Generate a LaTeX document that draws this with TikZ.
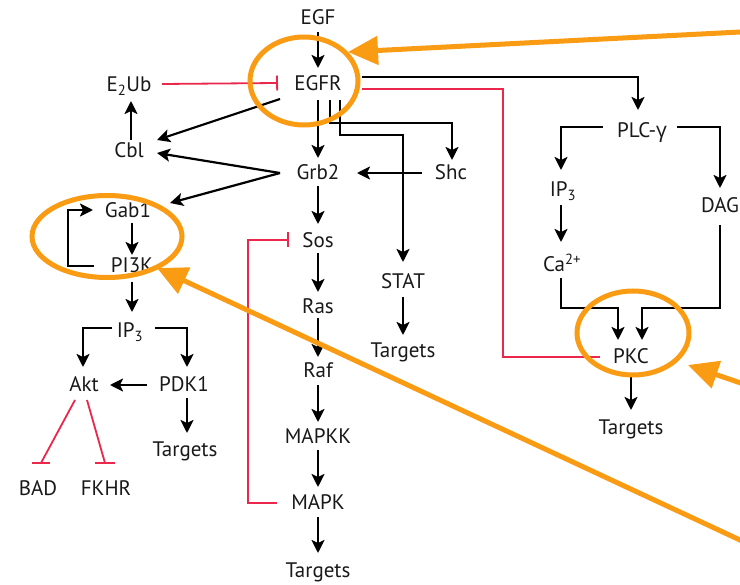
\documentclass[tikz,border=0pt]{standalone}
\usepackage{fontspec}
\setmainfont{PT Sans}
\newfontfamily\grk{Open Sans}
\usetikzlibrary{arrows.meta,calc}
\definecolor{inhred}{RGB}{235,40,75}
\definecolor{hlorange}{RGB}{250,155,20}
\begin{document}
\begin{tikzpicture}[x=1pt,y=-1pt,
  lab/.style={font=\fontsize{21}{23}\selectfont, inner sep=0pt, text height=14pt, text depth=0pt, text=black!90},
  arr/.style={draw=black, line width=2.2pt, -{Stealth[length=13pt,width=13pt,inset=3pt]}},
  elbow/.style={arr},
  inh/.style={draw=inhred, line width=1.8pt, -{Bar[width=15pt,line width=1.8pt]}},
  inhline/.style={draw=inhred, line width=1.8pt},
  hl/.style={draw=hlorange, line width=5pt},
  hlarrow/.style={draw=hlorange, line width=5pt, -{Triangle[length=30pt,width=28pt]}}
]
\useasboundingbox (0,0) rectangle (740,585);
\fill[white] (0,0) rectangle (740,585);

% nodes
\node[lab] (EGF)   at (318,18)  {EGF};
\node[lab] (EGFR)  at (318,84)  {EGFR};
\node[lab] (E2Ub)  at (129,85)  {E\textsubscript{2}Ub};
\node[lab] (Cbl)   at (129,151) {Cbl};
\node[lab] (Grb2)  at (318,173) {Grb2};
\node[lab] (Shc)   at (451,173) {Shc};
\node[lab] (Gab1)  at (128,211) {Gab1};
\node[lab] (PI3K)  at (132,266) {PI3K};
\node[lab] (Sos)   at (318,241) {Sos};
\node[lab] (STAT)  at (403,282) {STAT};
\node[lab] (TgS)   at (403,351) {Targets};
\node[lab] (Ras)   at (318,307) {Ras};
\node[lab] (Raf)   at (318,371) {Raf};
\node[lab] (MAPKK) at (318,437) {MAPKK};
\node[lab] (MAPK)  at (318,503) {MAPK};
\node[lab] (TgM)   at (318,571) {Targets};
\node[lab] (IP3a)  at (130,331) {IP\textsubscript{3}};
\node[lab] (Akt)   at (84,385)  {Akt};
\node[lab] (PDK1)  at (184,385) {PDK1};
\node[lab] (TgP)   at (185,450) {Targets};
\node[lab] (BAD)   at (38,489)  {BAD};
\node[lab] (FKHR)  at (106,489) {FKHR};
\node[lab] (PLC)   at (642,131) {PLC-{\grk γ}};
\node[lab] (IP3b)  at (563,190) {IP\textsubscript{3}};
\node[lab] (DAG)   at (720,206) {DAG};
\node[lab] (Ca)    at (562,265) {Ca\textsuperscript{2+}};
\node[lab] (PKC)   at (631,357) {PKC};
\node[lab] (TgK)   at (631,428) {Targets};

% black connectors
\draw[arr] ($(EGF)+(0,14)$) -- ($(EGFR)+(0,-16)$);
\draw[arr] ($(Cbl)+(2,-11)$) -- ($(E2Ub)+(2,16)$);
\draw[arr] ($(EGFR)+(-38,15)$) -- ($(Cbl)+(28,-11)$);
\draw[arr] ($(Grb2)+(-38,0)$) -- ($(Cbl)+(28,2)$);
\draw[arr] ($(Grb2)+(-38,0)$) -- ($(Gab1)+(42,-8)$);
\draw[arr] ($(Gab1)+(4,12)$) -- ($(PI3K)+(0,-11)$);
\draw[elbow] ($(PI3K)+(-38,0)$) -- ++(-26,0) |- ($(Gab1)+(-35,-1)$);
\draw[arr] ($(PI3K)+(0,16)$) -- ($(IP3a)+(2,-19)$);
\draw[elbow] ($(IP3a)+(-18,-3)$) -| ($(Akt)+(-1,-18)$);
\draw[elbow] ($(IP3a)+(25,-3)$) -| ($(PDK1)+(3,-18)$);
\draw[arr] ($(PDK1)+(-37,0)$) -- ($(Akt)+(26,0)$);
\draw[arr] ($(PDK1)+(3,13)$) -- ($(TgP)+(2,-17)$);
\draw[arr] ($(EGFR)+(0,16)$) -- ($(Grb2)+(0,-15)$);
\draw[elbow] ($(EGFR)+(12,16)$) -- ++(0,23) -| ($(Shc)+(1,-13)$);
\draw[elbow] ($(EGFR)+(22,16)$) -- ++(0,35) -| ($(STAT)+(0,-20)$);
\draw[arr] ($(Shc)+(-29,0)$) -- ($(Grb2)+(39,0)$);
\draw[arr] ($(Grb2)+(0,13)$) -- ($(Sos)+(0,-17)$);
\draw[arr] ($(Sos)+(0,12)$) -- ($(Ras)+(0,-15)$);
\draw[arr] ($(Ras)+(0,11)$) -- ($(Raf)+(0,-14)$);
\draw[arr] ($(Raf)+(0,14)$) -- ($(MAPKK)+(0,-15)$);
\draw[arr] ($(MAPKK)+(0,13)$) -- ($(MAPK)+(0,-16)$);
\draw[arr] ($(MAPK)+(0,14)$) -- ($(TgM)+(0,-18)$);
\draw[arr] ($(STAT)+(0,15)$) -- ($(TgS)+(0,-16)$);
\draw[elbow] ($(EGFR)+(44,-7)$) -| ($(PLC)+(-4,-21)$);
\draw[elbow] ($(PLC)+(-39,-4)$) -| ($(IP3b)+(-2,-20)$);
\draw[elbow] ($(PLC)+(35,-4)$) -| ($(DAG)+(0,-18)$);
\draw[arr] ($(IP3b)+(-2,15)$) -- ($(Ca)+(-1,-23)$);
\draw[elbow] ($(Ca)+(-1,13)$) |- ($(PKC)+(-13,-49)$) -- ($(PKC)+(-13,-17)$);
\draw[elbow] ($(DAG)+(0,19)$) |- ($(PKC)+(11,-49)$) -- ($(PKC)+(11,-17)$);
\draw[arr] ($(PKC)+(0,16)$) -- ($(TgK)+(0,-18)$);

% red inhibition
\draw[inh] ($(E2Ub)+(33,-1)$) -- ($(EGFR)+(-40,-1)$);
\draw[inh] ($(MAPK)+(-41,0)$) -- ++(-29,0) |- ($(Sos)+(-29,-1)$);
\draw[inhline] ($(EGFR)+(44,5)$) -- ($(EGFR)+(185,5)$) |- ($(PKC)+(-31,0)$);
\draw[inhline] ($(Akt)+(-9,15)$) -- ($(BAD)+(3,-26)$);
\draw[inhline] ($(BAD)+(-6,-26)$) -- ++(18,0);
\draw[inhline] ($(Akt)+(3,15)$) -- ($(FKHR)+(-1,-26)$);
\draw[inhline] ($(FKHR)+(-11,-26)$) -- ++(20,0);

% orange highlights
\draw[hl] ($(EGFR)+(-14,-3)$) ellipse [x radius=54, y radius=44];
\draw[hl] ($(Gab1)!0.5!(PI3K)+(-23,-2)$) ellipse [x radius=75, y radius=41];
\draw[hl] ($(PKC)+(2,-24)$) ellipse [x radius=56, y radius=42];
\coordinate (o1) at (770,30.5);
\coordinate (o2) at (770,393);
\coordinate (o3) at (770,554);
\draw[hlarrow] (o1) -- ($(EGFR)+(30,-32)$);
\draw[hlarrow] (o2) -- ($(PKC)+(57,8)$);
\draw[hlarrow] (o3) -- ($(PI3K)+(25,2)$);
\end{tikzpicture}
\end{document}
